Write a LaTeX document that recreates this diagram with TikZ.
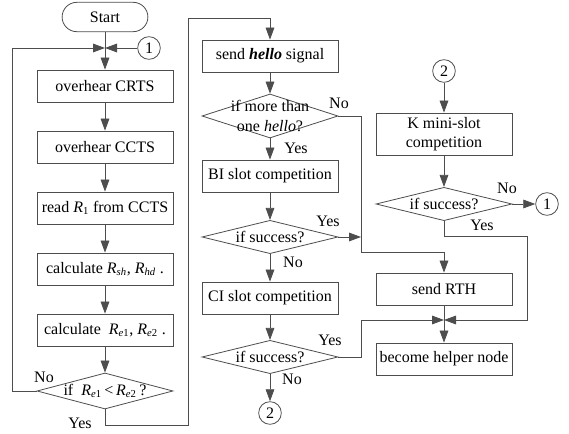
\documentclass[tikz,border=0pt]{standalone}
\usepackage{fontspec}
\setmainfont{Liberation Serif}
\usepackage{tikz}
\usetikzlibrary{arrows.meta,shapes.geometric,shapes.misc}
\definecolor{lineGray}{HTML}{4D4D4D}
\newcommand{\Rsub}[1]{\textit{R}\textsubscript{#1}}
\tikzset{
  txt/.style={font=\fontsize{12}{14.4}\selectfont},
  flowLine/.style={draw=lineGray, line width=0.6pt},
  procBox/.style={txt, flowLine, rectangle, minimum width=102pt, minimum height=24pt, inner sep=2pt, align=center},
  decision/.style={txt, flowLine, diamond, aspect=3.8, inner sep=0pt, minimum width=102pt, minimum height=25pt},
  startNode/.style={txt, flowLine, rounded rectangle, minimum width=71pt, minimum height=22pt},
  connCirc/.style={txt, flowLine, circle, minimum size=17pt, inner sep=0pt},
  lab/.style={txt, inner sep=1pt},
  >={Triangle[length=9pt,width=6.5pt]}
}

\begin{document}
\begin{tikzpicture}[x=0.75pt,y=-0.75pt]
\useasboundingbox (0,0) rectangle (569,434);

% left column
\node[startNode] (start) at (105,17) {Start};
\coordinate (j1) at (105,48);
\node[connCirc] (cOneA) at (149,48) {1};
\node[procBox] (crts) at (105,86) {overhear CRTS};
\node[procBox] (ccts) at (105,147) {overhear CCTS};
\node[procBox] (readR) at (105,208) {read \Rsub{1} from CCTS};
\node[procBox] (calcA) at (105,269) {calculate \Rsub{\textit{sh}}, \Rsub{\textit{hd}} .};
\node[procBox] (calcB) at (105,330) {calculate \ \Rsub{\textit{e}1}, \Rsub{\textit{e}2} .};
\node[decision, minimum height=27pt] (cmp) at (105,391) {if \ \Rsub{\textit{e}1}\,<\,\Rsub{\textit{e}2}\,?};
\node[lab] (cmpNo) at (44,377) {No};
\node[lab] (cmpYes) at (80,423) {Yes};
\coordinate (loopA) at (188,425);
\coordinate (loopB) at (188,18);

% middle column
\node[procBox] (sendHello) at (270,56) {send \textbf{\textit{hello}} signal};
\node[decision, minimum height=33pt] (moreHello) at (270,116) {};
\node[txt, align=center, inner sep=0pt] (moreHelloTxt) at (270,116) {if more than\\one \textit{hello}?};
\node[lab] (moreNo) at (339,103) {No};
\node[lab] (moreYes) at (296,148) {Yes};
\node[procBox] (biSlot) at (270,176) {BI slot competition};
\node[decision] (biOk) at (270,237) {if success?};
\node[lab] (biYes) at (328,221) {Yes};
\node[lab] (biNo) at (293,262) {No};
\node[procBox] (ciSlot) at (270,298) {CI slot competition};
\node[decision] (ciOk) at (270,357) {if success?};
\node[lab] (ciYes) at (330,340) {Yes};
\node[lab] (ciNo) at (292,379) {No};
\node[connCirc] (cTwoA) at (270,413) {2};
\coordinate (busX) at (361,252);
\coordinate (ciTurn) at (361,320);

% right column
\node[connCirc] (cTwoB) at (444,71) {2};
\node[procBox, minimum height=31.5pt] (kSlot) at (444,134) {K mini-slot\\competition};
\node[decision] (kOk) at (444,204) {if success?};
\node[lab] (kNo) at (507,188) {No};
\node[lab] (kYes) at (482,225) {Yes};
\node[connCirc] (cOneB) at (547,204) {1};
\node[procBox] (rth) at (444,289) {send RTH};
\coordinate (j2) at (444,320);
\node[procBox] (helper) at (444,359) {become helper node};
\coordinate (rTop) at (527,236);

% connectors
\draw[flowLine] (start.south) -- (j1);
\draw[flowLine,->] (j1) -- (crts.north);
\draw[flowLine,->] (cOneA) -- (j1);
\draw[flowLine,->] (crts) -- (ccts);
\draw[flowLine,->] (ccts) -- (readR);
\draw[flowLine,->] (readR) -- (calcA);
\draw[flowLine,->] (calcA) -- (calcB);
\draw[flowLine,->] (calcB) -- (cmp);
\draw[flowLine,->] (cmp.west) -- ++(-24,0) |- (j1);
\draw[flowLine,->] (cmp.south) |- (loopA) -- (loopB) -| (sendHello.north);

\draw[flowLine,->] (sendHello) -- (moreHello);
\draw[flowLine,->] (moreHello) -- (biSlot);
\draw[flowLine,->] (biSlot) -- (biOk);
\draw[flowLine,->] (biOk) -- (ciSlot);
\draw[flowLine,->] (ciSlot) -- (ciOk);
\draw[flowLine,->] (ciOk) -- (cTwoA);
\draw[flowLine,->] (moreHello.east) -| (busX) -| (rth.north);
\draw[flowLine,->] (biOk.east) -- (biOk.east -| busX);
\draw[flowLine,->] (ciOk.east) -| (ciTurn) -- (j2);

\draw[flowLine,->] (cTwoB) -- (kSlot);
\draw[flowLine,->] (kSlot) -- (kOk);
\draw[flowLine,->] (kOk) -- (cOneB);
\draw[flowLine,->] (kOk.south) |- (rTop) |- (j2);
\draw[flowLine] (rth.south) -- (j2);
\draw[flowLine,->] (j2) -- (helper.north);
\end{tikzpicture}
\end{document}
